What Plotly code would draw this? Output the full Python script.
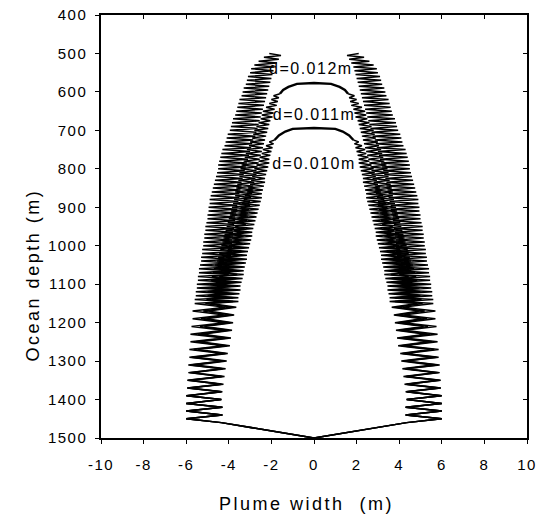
import plotly.graph_objects as go

# ---------------- data ----------------
# depth of each zigzag turning point (m)
DEPTH = [500, 505, 510, 515, 520, 525, 530, 535, 540, 545,
         550, 555, 560, 565, 570, 575, 580, 585, 590, 595,
         600, 605, 610, 615, 620, 625, 630, 635, 640, 645,
         650, 655, 660, 665, 670, 675, 680, 685, 690, 695,
         700, 705, 710, 715, 720, 725, 730, 735, 740, 745,
         750, 755, 760, 765, 770, 775, 780, 785, 790, 795,
         800, 805, 810, 815, 820, 825, 830, 835, 840, 845,
         850, 855, 860, 865, 870, 875, 880, 885, 890, 895,
         900, 905, 910, 915, 920, 925, 930, 935, 940, 945,
         950, 955, 960, 965, 970, 975, 980, 985, 990, 995,
         1000, 1005, 1010, 1015, 1020, 1025, 1030, 1035, 1040, 1045,
         1050, 1055, 1060, 1065, 1070, 1075, 1080, 1085, 1090, 1095,
         1100, 1105, 1110, 1115, 1120, 1125, 1130, 1135, 1140, 1145,
         1150, 1160, 1170, 1180, 1190, 1200, 1210, 1220, 1230, 1240,
         1250, 1260, 1270, 1280, 1290, 1300, 1310, 1320, 1330, 1340,
         1350, 1360, 1370, 1380, 1390, 1400, 1410, 1420, 1430, 1440,
         1450, 1460]

# half plume width at each turning point (m); d = 0.012 m, from 500 m
PLUME_012_X = [2.1, 1.55, 2.35, 1.65, 2.6, 1.75, 2.8, 1.85, 2.95, 1.9,
               3.0, 1.95, 3.1, 2.0, 3.15, 2.05, 3.2, 2.1, 3.3, 2.15,
               3.35, 2.2, 3.4, 2.25, 3.5, 2.3, 3.55, 2.35, 3.6, 2.4,
               3.65, 2.45, 3.7, 2.5, 3.8, 2.55, 3.85, 2.6, 3.9, 2.65,
               3.95, 2.7, 4.05, 2.75, 4.1, 2.85, 4.15, 2.9, 4.2, 2.95,
               4.3, 3.0, 4.35, 3.05, 4.4, 3.1, 4.45, 3.15, 4.5, 3.2,
               4.5, 3.25, 4.55, 3.3, 4.6, 3.35, 4.65, 3.4, 4.7, 3.4,
               4.75, 3.45, 4.8, 3.5, 4.85, 3.5, 4.9, 3.55, 4.9, 3.6,
               4.95, 3.6, 4.95, 3.65, 5.0, 3.7, 5.0, 3.7, 5.05, 3.75,
               5.1, 3.75, 5.1, 3.8, 5.15, 3.8, 5.15, 3.85, 5.2, 3.85,
               5.2, 3.85, 5.25, 3.85, 5.25, 3.9, 5.3, 3.9, 5.3, 3.95,
               5.35, 3.95, 5.4, 4.0, 5.4, 4.0, 5.45, 4.05, 5.45, 4.05,
               5.5, 4.1, 5.5, 4.1, 5.55, 4.1, 5.55, 4.15, 5.6, 4.15,
               5.6, 4.15, 5.7, 4.2, 5.7, 4.2, 5.75, 4.25, 5.8, 4.25,
               5.8, 4.25, 5.85, 4.3, 5.85, 4.3, 5.9, 4.3, 5.9, 4.35,
               5.95, 4.35, 5.95, 4.35, 6.0, 4.35, 6.0, 4.3, 6.0, 4.3,
               6.0, 4.35]

# d = 0.011 m, from 605 m
PLUME_011_X = [1.6, 1.9, 1.65, 2.0, 1.7, 2.1, 1.75, 2.25, 1.85,
               2.4, 1.9, 2.45, 1.95, 2.5, 2.05, 2.6, 2.1, 2.7, 2.15,
               2.8, 2.2, 2.85, 2.25, 2.9, 2.3, 3.0, 2.35, 3.05, 2.4,
               3.15, 2.45, 3.2, 2.5, 3.25, 2.55, 3.3, 2.6, 3.4, 2.65,
               3.45, 2.7, 3.5, 2.7, 3.5, 2.75, 3.55, 2.8, 3.6, 2.85,
               3.65, 2.85, 3.7, 2.9, 3.7, 2.95, 3.75, 3.0, 3.8, 3.0,
               3.85, 3.05, 3.9, 3.1, 3.95, 3.1, 4.0, 3.15, 4.05, 3.2,
               4.1, 3.25, 4.15, 3.25, 4.2, 3.3, 4.25, 3.35, 4.3, 3.35,
               4.35, 3.4, 4.4, 3.45, 4.45, 3.45, 4.5, 3.5, 4.55, 3.5,
               4.65, 3.55, 4.7, 3.6, 4.75, 3.6, 4.8, 3.65, 4.85, 3.65,
               4.9, 3.7, 4.95, 3.75, 5.0, 3.75, 5.0, 3.8, 5.05, 3.8,
               5.1, 3.85, 5.2, 3.9, 5.3, 3.95, 5.35, 4.0, 5.45, 4.05,
               5.55, 4.1, 5.65, 4.15, 5.75, 4.25, 5.8, 4.3, 5.85, 4.3,
               5.9, 4.35, 5.95, 4.35, 6.0, 4.35, 6.0, 4.3, 6.0, 4.3,
               6.0, 4.35]

# d = 0.010 m, from 725 m
PLUME_010_X = [1.85, 2.1, 1.9, 2.25, 1.95,
               2.4, 2.0, 2.45, 2.05, 2.55, 2.1, 2.6, 2.1, 2.7, 2.15,
               2.8, 2.2, 2.85, 2.25, 2.9, 2.3, 2.95, 2.3, 3.0, 2.35,
               3.1, 2.4, 3.15, 2.45, 3.25, 2.45, 3.3, 2.5, 3.4, 2.55,
               3.45, 2.6, 3.5, 2.65, 3.55, 2.7, 3.6, 2.75, 3.65, 2.8,
               3.7, 2.85, 3.75, 2.9, 3.8, 2.9, 3.85, 2.95, 3.9, 3.0,
               4.0, 3.05, 4.05, 3.1, 4.1, 3.15, 4.15, 3.15, 4.2, 3.2,
               4.3, 3.25, 4.35, 3.3, 4.4, 3.3, 4.45, 3.35, 4.5, 3.4,
               4.6, 3.45, 4.65, 3.45, 4.7, 3.5, 4.75, 3.55, 4.8, 3.55,
               4.85, 3.65, 4.95, 3.75, 5.05, 3.8, 5.15, 3.85, 5.25, 3.9,
               5.35, 3.95, 5.45, 4.05, 5.5, 4.1, 5.55, 4.15, 5.65, 4.2,
               5.75, 4.25, 5.85, 4.3, 5.95, 4.35, 6.0, 4.3, 6.0, 4.3,
               6.0, 4.35]

# closed tops of the two smaller plumes (right -> left)
ARC_011_X = [1.6, 1.45, 1.2, 0.8, 0.0, -0.8, -1.2, -1.45, -1.6]
ARC_011_DEPTH = [605, 595, 587, 579, 577, 579, 587, 595, 605]
ARC_010_X = [1.85, 1.65, 1.35, 1.0, 0.0, -1.0, -1.35, -1.65, -1.85]
ARC_010_DEPTH = [725, 713, 703, 696, 694, 696, 703, 713, 725]

BOTTOM_X = 0.0
BOTTOM_DEPTH = 1500

LABELS = ["d=0.012m", "d=0.011m", "d=0.010m"]
LABEL_X = [-0.15, 0.0, 0.0]
LABEL_DEPTH = [543, 663, 790]

X_TICKS = [-10, -8, -6, -4, -2, 0, 2, 4, 6, 8, 10]
X_TICK_TEXT = ["-10", "-8", "-6", "-4", "-2", "0", "2", "4", "6", "8", "10"]
Y_TICKS = [400, 500, 600, 700, 800, 900, 1000, 1100, 1200, 1300, 1400, 1500]
Y_TICK_TEXT = ["400", "500", "600", "700", "800", "900", "1000", "1100",
               "1200", "1300", "1400", "1500"]

X_TITLE = "Plume width\u00a0\u00a0(m)"
Y_TITLE = "Ocean depth (m)"

# ---------------- figure ----------------
FONT = "Arial, 'Liberation Sans', Helvetica, sans-serif"


def spaced(t, ls):
    return '<span style="letter-spacing:%spx">%s</span>' % (ls, t)


def plume_path(xs, start_depth):
    i0 = DEPTH.index(start_depth)
    ds = DEPTH[i0:i0 + len(xs)]
    px = [-v for v in xs] + [BOTTOM_X] + xs[::-1]
    pd = list(ds) + [BOTTOM_DEPTH] + list(ds[::-1])
    return px, pd


fig = go.Figure()
for xs, d0 in [(PLUME_012_X, 500), (PLUME_011_X, 605), (PLUME_010_X, 725)]:
    px, pd = plume_path(xs, d0)
    fig.add_trace(go.Scatter(x=px, y=pd, mode="lines",
                             line=dict(color="black", width=1.5),
                             showlegend=False, hoverinfo="skip"))

for ax, ad in [(ARC_011_X, ARC_011_DEPTH), (ARC_010_X, ARC_010_DEPTH)]:
    fig.add_trace(go.Scatter(x=ax, y=ad, mode="lines",
                             line=dict(color="black", width=2.4),
                             showlegend=False, hoverinfo="skip"))

fig.add_trace(go.Scatter(x=LABEL_X, y=LABEL_DEPTH, mode="text",
                         text=[spaced(t, 1.5) for t in LABELS],
                         textfont=dict(family=FONT, size=16, color="black"),
                         xaxis="x2", yaxis="y2", showlegend=False,
                         hoverinfo="skip"))

axis_common = dict(showgrid=False, zeroline=False, linecolor="black",
                   linewidth=1.5, tickcolor="black", ticklen=4, tickwidth=1.2,
                   automargin=False, ticklabeloverflow="allow")

fig.update_layout(
    width=536, height=517,
    margin=dict(l=101, r=9, t=15, b=79, autoexpand=False),
    paper_bgcolor="white", plot_bgcolor="white",
    font=dict(family=FONT, size=15, color="black"),
    xaxis=dict(range=[-10, 10], tickmode="array", tickvals=X_TICKS,
               ticktext=[spaced(t, 1.5) for t in X_TICK_TEXT],
               ticks="outside", mirror=True, ticklabelstandoff=8,
               **axis_common),
    yaxis=dict(range=[1500, 400], tickmode="array", tickvals=Y_TICKS,
               ticktext=[spaced(t, 1.5) for t in Y_TICK_TEXT],
               ticks="outside", mirror=True, ticklabelstandoff=5,
               **axis_common),
    xaxis2=dict(range=[-10, 10], overlaying="x", side="top",
                tickmode="array", tickvals=X_TICKS, ticks="inside",
                showticklabels=False, showgrid=False, zeroline=False,
                showline=False, tickcolor="black", ticklen=4, tickwidth=1.2,
                automargin=False),
    yaxis2=dict(range=[1500, 400], overlaying="y", side="right",
                tickmode="array", tickvals=Y_TICKS, ticks="inside",
                showticklabels=False, showgrid=False, zeroline=False,
                showline=False, tickcolor="black", ticklen=4, tickwidth=1.2,
                automargin=False),
    annotations=[
        dict(text=spaced(X_TITLE, 2.5), xref="paper", yref="paper",
             x=0.482, y=-0.156, xanchor="center", yanchor="middle",
             showarrow=False, font=dict(family=FONT, size=18)),
        dict(text=spaced(Y_TITLE, 2.5), xref="paper", yref="y",
             x=-0.16, y=1075, xanchor="center", yanchor="middle",
             textangle=-90, showarrow=False, font=dict(family=FONT, size=18)),
    ],
)

fig.write_html("out.html")
